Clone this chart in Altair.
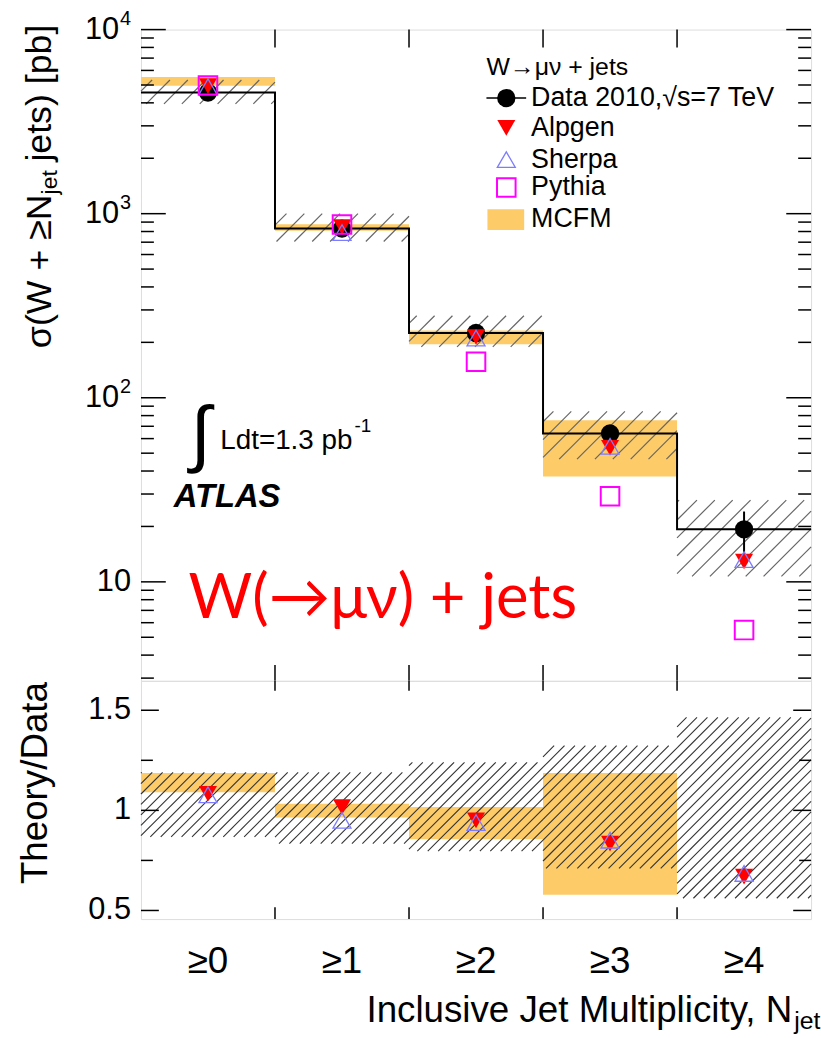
import math
import altair as alt
import pandas as pd

# ---------------- data ----------------
bin_labels = ["≥0", "≥1", "≥2", "≥3", "≥4"]
bin_index = [0, 1, 2, 3, 4]

# W -> mu nu + jets cross sections [pb]
data_xsec = [4550, 830, 225, 64, 19.3]
data_stat_lo = [4530, 822, 218, 57.5, 13.6]
data_stat_hi = [4570, 838, 232, 71, 24.1]
syst_lo = [3950, 706, 189, 46.4, 10.7]
syst_hi = [5320, 1000, 279, 84.4, 27.8]
mcfm_lo = [4950, 807, 195, 37.3]
mcfm_hi = [5520, 877, 232, 75.5]
alpgen_xsec = [4930, 845, 214, 53.5, 12.9]
sherpa_xsec = [4900, 790, 211, 54.5, 13.2]
pythia_xsec = [4970, 873, 157, 29.2, 5.47]

# Theory / Data
ratio_syst_lo = [0.868, 0.834, 0.796, 0.710, 0.561]
ratio_syst_hi = [1.190, 1.190, 1.240, 1.323, 1.464]
ratio_mcfm_lo = [1.091, 0.964, 0.856, 0.578]
ratio_mcfm_hi = [1.187, 1.033, 1.017, 1.187]
ratio_alpgen = [1.083, 1.017, 0.950, 0.834, 0.669]
ratio_sherpa = [1.078, 0.950, 0.939, 0.851, 0.685]

top_major_ticks = [10, 100, 1000, 10000]
top_major_exp = ["", "2", "3", "4"]
top_minor_ticks = [m * d for d in (1, 10, 100, 1000) for m in range(2, 10) if m * d >= 3]
ratio_major_ticks = [0.5, 1.0, 1.5]
ratio_major_labels = ["0.5", "1", "1.5"]
ratio_minor_ticks = [0.75, 1.25]
bin_edges_inner = [1, 2, 3, 4]

# ---------------- styling ----------------
FONT = "Liberation Sans, Arial, Helvetica, sans-serif"
ORANGE = "#FDCB67"
RED = "#FF0000"
SHERPA_BLUE = "#7C7CFF"
MAGENTA = "#FF00FF"
S_CIRCLE, S_TRI, S_SQUARE = 340, 330, 350

W, HT, HB = 675, 656, 240
XPX = W / 5.0
YT_MIN, YT_MAX = 2.9, 1e4
YB_MIN, YB_MAX = 0.457, 1.647
PPD = HT / (math.log10(YT_MAX) - math.log10(YT_MIN))
PPU = HB / (YB_MAX - YB_MIN)

xs = alt.Scale(domain=[0, 5], nice=False, zero=False)
yts = alt.Scale(type="log", domain=[YT_MIN, YT_MAX], nice=False)
ybs = alt.Scale(domain=[YB_MIN, YB_MAX], nice=False, zero=False)


def hatch(x0s, lo, hi, to_px, from_px, spacing):
    """Diagonal '/' hatch segments clipped to each uncertainty box."""
    rows = []
    for x0, a_lo, a_hi in zip(x0s, lo, hi):
        px0, px1 = x0 * XPX, (x0 + 1) * XPX
        py0, py1 = to_px(a_lo), to_px(a_hi)
        k0 = math.floor((py0 - px1) / spacing)
        k1 = math.ceil((py1 - px0) / spacing)
        for k in range(k0, k1 + 1):
            c = k * spacing
            a = max(px0, py0 - c)
            b = min(px1, py1 - c)
            if b - a > 0.8:
                rows.append({"x": a / XPX, "x2": b / XPX,
                             "y": from_px(a + c), "y2": from_px(b + c)})
    return pd.DataFrame(rows)


def top_px(v):
    return (math.log10(v) - math.log10(YT_MIN)) * PPD


def top_val(p):
    return 10 ** (p / PPD + math.log10(YT_MIN))


def bot_px(v):
    return (v - YB_MIN) * PPU


def bot_val(p):
    return p / PPU + YB_MIN


def text(t, x, y, size, align="left", baseline="alphabetic", angle=0,
         color="black", weight="normal", style="normal", font=FONT, dy=0):
    kw = dict(text=t, fontSize=size, align=align, baseline=baseline,
              color=color, fontWeight=weight, fontStyle=style, font=font)
    if angle:
        kw["angle"] = angle
    if dy:
        kw["dy"] = dy
    return alt.Chart(pd.DataFrame({"a": [0]})).mark_text(**kw).encode(
        x=alt.value(x), y=alt.value(y))


def XQ(f):
    return alt.X(f, type="quantitative", scale=xs, axis=None)


def one():
    return alt.Chart(pd.DataFrame({"a": [0]}))


# ---------------- top panel ----------------
centers = [i + 0.5 for i in bin_index]
df_top = pd.DataFrame({
    "c": centers, "data": data_xsec, "lo": data_stat_lo, "hi": data_stat_hi,
    "alpgen": alpgen_xsec, "sherpa": sherpa_xsec, "pythia": pythia_xsec})
df_mcfm = pd.DataFrame({"x0": bin_index[:4], "x1": [i + 1 for i in bin_index[:4]],
                        "lo": mcfm_lo, "hi": mcfm_hi})
df_step = pd.DataFrame({"x": bin_index + [5], "y": data_xsec + [data_xsec[-1]]})
df_hatch_top = hatch(bin_index, syst_lo, syst_hi, top_px, top_val, 18)


def YT(f):
    return alt.Y(f, type="quantitative", scale=yts, axis=None)


band_top = alt.Chart(df_mcfm).mark_rect(color=ORANGE).encode(
    x=XQ("x0"), x2="x1", y=YT("lo"), y2="hi")
hatch_top = alt.Chart(df_hatch_top).mark_rule(color="#666666", strokeWidth=1.2).encode(
    x=XQ("x"), x2="x2", y=YT("y"), y2="y2")
step = alt.Chart(df_step).mark_line(interpolate="step-after", color="black",
                                    strokeWidth=2).encode(x=XQ("x"), y=YT("y"))
errbar = alt.Chart(df_top).mark_rule(color="black", strokeWidth=2).encode(
    x=XQ("c"), y=YT("lo"), y2="hi")
pts_data = alt.Chart(df_top).mark_point(shape="circle", filled=True, color="black",
                                        size=S_CIRCLE, opacity=1).encode(x=XQ("c"), y=YT("data"))
pts_alp = alt.Chart(df_top).mark_point(shape="triangle-down", filled=True, color=RED,
                                       size=S_TRI, opacity=1).encode(x=XQ("c"), y=YT("alpgen"))
pts_she = alt.Chart(df_top).mark_point(shape="triangle-up", filled=False, color=SHERPA_BLUE,
                                       size=S_TRI, strokeWidth=1.3, opacity=1).encode(
    x=XQ("c"), y=YT("sherpa"))
pts_pyt = alt.Chart(df_top).mark_point(shape="square", filled=False, color=MAGENTA,
                                       size=S_SQUARE, strokeWidth=2, opacity=1).encode(
    x=XQ("c"), y=YT("pythia"))

df_tmaj = pd.DataFrame({"v": top_major_ticks, "e": top_major_exp})
df_tmin = pd.DataFrame({"v": top_minor_ticks})
df_edges = pd.DataFrame({"x": bin_edges_inner})


def yticks(df, scale_y, length, right=False):
    x_a, x_b = (W - length, W) if right else (0, length)
    return alt.Chart(df).mark_rule(color="black", strokeWidth=1.5).encode(
        x=alt.value(x_a), x2=alt.value(x_b), y=scale_y("v"))


def xticks(df, y_a, y_b):
    return alt.Chart(df).mark_rule(color="black", strokeWidth=1.5).encode(
        x=XQ("x"), y=alt.value(y_a), y2=alt.value(y_b))


top_ticks = [
    yticks(df_tmaj, YT, 25), yticks(df_tmin, YT, 13),
    yticks(df_tmaj, YT, 25, right=True), yticks(df_tmin, YT, 13, right=True),
    xticks(df_edges, 0, 18), xticks(df_edges, HT - 16, HT),
]

df_tmaj_hi = df_tmaj[df_tmaj.e != ""]
df_tmaj_lo = df_tmaj[df_tmaj.e == ""]
tick_lab_10 = alt.Chart(df_tmaj_hi).mark_text(
    text="10", fontSize=31, align="right", baseline="middle", font=FONT,
    color="black").encode(x=alt.value(-22), y=YT("v"))
tick_lab_10_1 = alt.Chart(df_tmaj_lo).mark_text(
    text="10", fontSize=31, align="right", baseline="middle", font=FONT,
    color="black").encode(x=alt.value(-10), y=YT("v"))
tick_lab_exp = alt.Chart(df_tmaj_hi).mark_text(
    fontSize=20, align="left", baseline="middle", font=FONT, color="black",
    dy=-11).encode(x=alt.value(-21), y=YT("v"), text="e:N")

# y title with subscript, rotated
YT_X = 40 - 142
anchor_y = 192 - 26
ytitle = [
    text("σ(W + ≥N", YT_X, anchor_y, 36, align="right", baseline="middle", angle=270),
    text("jet", YT_X, anchor_y, 23, align="left", baseline="middle", angle=270, dy=10),
    text("jets) [pb]", YT_X, anchor_y - 33, 36, align="left", baseline="middle", angle=270),
]

# legend
LX_M, LX_T = 368, 393
legend = [
    text("W→μν + jets", 348, 46, 25),
    one().mark_rule(color="black", strokeWidth=1.5).encode(
        x=alt.value(348), x2=alt.value(388), y=alt.value(69)),
    one().mark_point(shape="circle", filled=True, color="black",
                     size=S_CIRCLE, opacity=1).encode(x=alt.value(LX_M), y=alt.value(69)),
    text("Data 2010,√s=7 TeV", LX_T, 69, 27, baseline="middle"),
    one().mark_point(shape="triangle-down", filled=True, color=RED,
                     size=S_TRI, opacity=1).encode(x=alt.value(LX_M), y=alt.value(99)),
    text("Alpgen", LX_T, 99, 27, baseline="middle"),
    one().mark_point(shape="triangle-up", filled=False, color=SHERPA_BLUE, size=S_TRI,
                     strokeWidth=1.3, opacity=1).encode(x=alt.value(LX_M), y=alt.value(131)),
    text("Sherpa", LX_T, 131, 27, baseline="middle"),
    one().mark_point(shape="square", filled=False, color=MAGENTA, size=S_SQUARE,
                     strokeWidth=2, opacity=1).encode(x=alt.value(LX_M), y=alt.value(159)),
    text("Pythia", LX_T, 159, 27, baseline="middle"),
    one().mark_rect(color=ORANGE).encode(
        x=alt.value(349), x2=alt.value(386), y=alt.value(181), y2=alt.value(202)),
    text("MCFM", LX_T, 191, 27, baseline="middle"),
]

annot = [
    text("∫", 60, 410, 74, align="center", baseline="middle"),
    text("Ldt=1.3 pb", 213, 422, 28, align="right"),
    text("-1", 215, 405, 19),
    text("ATLAS", 33, 481, 33, weight="bold", style="italic"),
    text("W(→μν) + jets", 48, 593, 62, color=RED, font="Lato, Open Sans, sans-serif"),
]

# transparent anchor that fixes the outer margin of the figure
anchor = one().mark_rule(strokeOpacity=0, strokeWidth=1).encode(
    x=alt.value(-141.5), x2=alt.value(-130), y=alt.value(-25.5))

top = alt.layer(
    band_top, hatch_top, step, errbar, pts_data, pts_alp, pts_she, pts_pyt,
    *top_ticks, tick_lab_10, tick_lab_10_1, tick_lab_exp, *ytitle, *legend, *annot, anchor,
).properties(width=W, height=HT)

# ---------------- ratio panel ----------------
df_rb = pd.DataFrame({"x0": bin_index[:4], "x1": [i + 1 for i in bin_index[:4]],
                      "lo": ratio_mcfm_lo, "hi": ratio_mcfm_hi})
df_rp = pd.DataFrame({"c": centers, "alpgen": ratio_alpgen, "sherpa": ratio_sherpa})
df_hatch_bot = hatch(bin_index, ratio_syst_lo, ratio_syst_hi, bot_px, bot_val, 10.5)


def YB(f):
    return alt.Y(f, type="quantitative", scale=ybs, axis=None)


band_bot = alt.Chart(df_rb).mark_rect(color=ORANGE).encode(
    x=XQ("x0"), x2="x1", y=YB("lo"), y2="hi")
hatch_bot = alt.Chart(df_hatch_bot).mark_rule(color="#333333", strokeWidth=1.1).encode(
    x=XQ("x"), x2="x2", y=YB("y"), y2="y2")
r_alp = alt.Chart(df_rp).mark_point(shape="triangle-down", filled=True, color=RED,
                                    size=S_TRI, opacity=1).encode(x=XQ("c"), y=YB("alpgen"))
r_she = alt.Chart(df_rp).mark_point(shape="triangle-up", filled=False, color=SHERPA_BLUE,
                                    size=S_TRI, strokeWidth=1.3, opacity=1).encode(
    x=XQ("c"), y=YB("sherpa"))

df_rmaj = pd.DataFrame({"v": ratio_major_ticks, "lab": ratio_major_labels})
df_rmin = pd.DataFrame({"v": ratio_minor_ticks})
bot_ticks = [
    yticks(df_rmaj, YB, 18), yticks(df_rmin, YB, 12),
    yticks(df_rmaj, YB, 18, right=True), yticks(df_rmin, YB, 12, right=True),
    xticks(df_edges, 0, 10), xticks(df_edges, HB - 12, HB),
]
r_labels = alt.Chart(df_rmaj).mark_text(fontSize=31, align="right", baseline="middle",
                                        font=FONT, color="black").encode(
    x=alt.value(-10), y=YB("v"), text="lab:N")
df_xl = pd.DataFrame({"c": centers, "lab": bin_labels})
x_labels = alt.Chart(df_xl).mark_text(fontSize=37, align="center", baseline="alphabetic",
                                      font=FONT, color="black").encode(
    x=XQ("c"), y=alt.value(HB + 54), text="lab:N")

bot_titles = [
    text("Theory/Data", 36 - 142, 785 - 682, 37, align="center", baseline="middle", angle=270),
    text("Inclusive Jet Multiplicity, N", 656, 1026 - 682, 37, align="right"),
    text("jet", 658, 1026 - 682, 25, dy=7),
]

bottom = alt.layer(
    band_bot, hatch_bot, r_alp, r_she, *bot_ticks, r_labels, x_labels, *bot_titles,
).properties(width=W, height=HB)

chart = alt.vconcat(top, bottom, spacing=0, bounds="flush").properties(
    padding=0
).configure_view(stroke="black", strokeWidth=2).configure(background="white")

chart.save("out.html", embed_options={"renderer": "svg", "actions": False})
